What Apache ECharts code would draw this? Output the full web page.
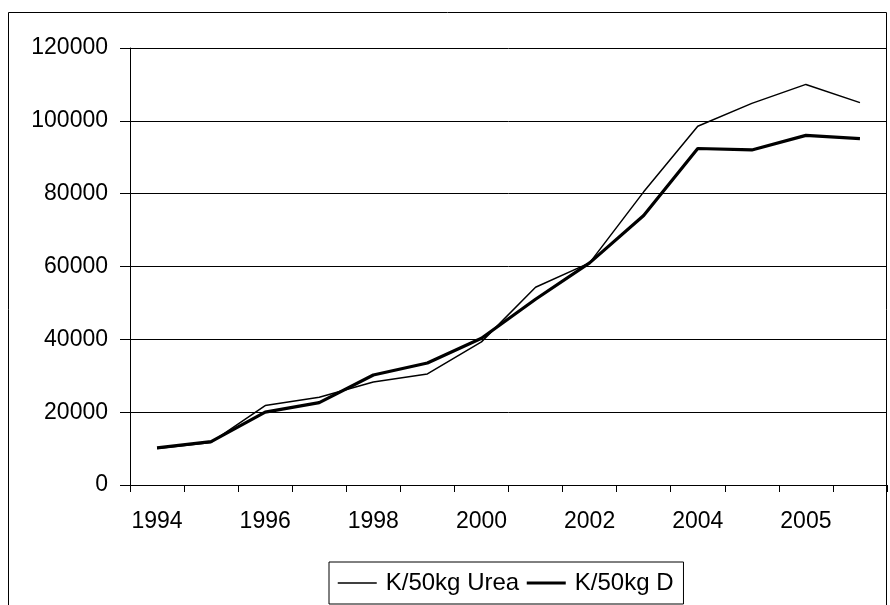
<!DOCTYPE html>
<html>
<head>
<meta charset="utf-8">
<script src="https://cdn.jsdelivr.net/npm/echarts@6/dist/echarts.min.js"></script>
<style>
html,body{margin:0;padding:0;background:#fff;}
#chart{width:890px;height:605px;}
</style>
</head>
<body>
<div id="chart"></div>
<script>
var categories = ["1994","1995","1996","1997","1998","1999","2000","2001","2002","2003","2004","2004","2005","2005"];
var ureaValues = [10000, 11700, 21800, 24100, 28300, 30500, 39300, 54300, 61000, 80500, 98500, 104800, 110000, 105000];
var dValues = [10200, 11900, 20000, 22600, 30200, 33500, 40300, 51000, 61000, 74000, 92400, 92000, 96000, 95100];
var yTicks = [0, 20000, 40000, 60000, 80000, 100000, 120000];

var FONT = "'Liberation Sans', Arial, sans-serif";
var chart = echarts.init(document.getElementById('chart'), null, {renderer: 'canvas'});
chart.setOption({
  animation: false,
  backgroundColor: '#fff',
  graphic: [{
    type: 'rect',
    shape: {x: 8.5, y: 12.5, width: 878, height: 620},
    style: {fill: 'none', stroke: '#000', lineWidth: 1},
    silent: true, z: -1
  }],
  grid: {left: 130, right: 3, top: 48, bottom: 120, containLabel: false},
  xAxis: {
    type: 'category',
    data: categories,
    boundaryGap: true,
    axisLine: {show: true, lineStyle: {color: '#000', width: 1}},
    axisTick: {show: true, interval: 0, length: 7, lineStyle: {color: '#000'}},
    axisLabel: {interval: 1, margin: 25, fontSize: 23, fontFamily: FONT, color: '#000'},
    splitLine: {show: false}
  },
  yAxis: {
    type: 'value',
    min: yTicks[0],
    max: yTicks[yTicks.length - 1],
    interval: yTicks[1] - yTicks[0],
    axisLine: {show: true, lineStyle: {color: '#000', width: 1}},
    axisTick: {show: true, length: 10, lineStyle: {color: '#000'}},
    axisLabel: {margin: 22, fontSize: 23, fontFamily: FONT, color: '#000',
      formatter: function (v) { return String(v); }},
    splitLine: {show: true, lineStyle: {color: '#000', width: 1}}
  },
  legend: {
    left: 329, top: 562,
    padding: [9, 10, 9, 8],
    itemGap: 6,
    itemWidth: 39, itemHeight: 2,
    borderColor: '#000', borderWidth: 1,
    itemStyle: {opacity: 0},
    textStyle: {fontSize: 24, fontFamily: FONT, color: '#000', padding: [0, 0, 0, 4], lineHeight: 24},
    data: [
      {name: 'K/50kg Urea', lineStyle: {width: 1.5, color: '#000'}},
      {name: 'K/50kg D', lineStyle: {width: 3.2, color: '#000'}}
    ]
  },
  series: [
    {
      name: 'K/50kg Urea', type: 'line', data: ureaValues,
      symbol: 'none', smooth: false,
      lineStyle: {color: '#000', width: 1.5},
      itemStyle: {color: '#000'}
    },
    {
      name: 'K/50kg D', type: 'line', data: dValues,
      symbol: 'none', smooth: false,
      lineStyle: {color: '#000', width: 3.2},
      itemStyle: {color: '#000'}
    }
  ]
});
</script>
</body>
</html>
